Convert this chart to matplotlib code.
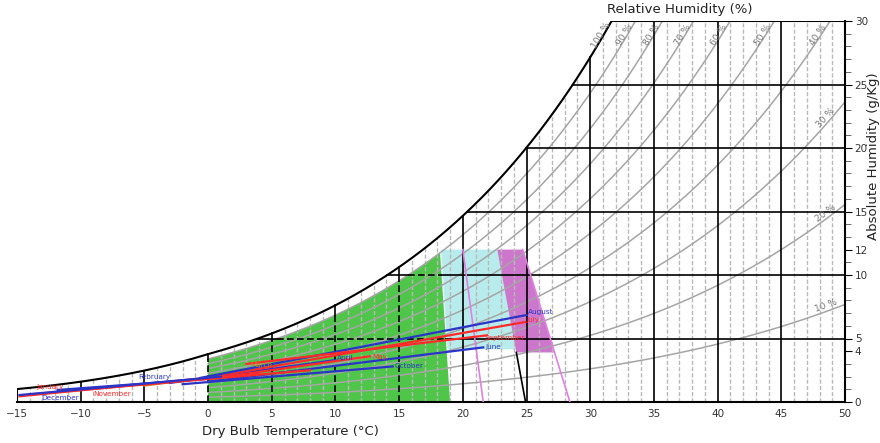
import numpy as np
import matplotlib
matplotlib.use("Agg")
import matplotlib.pyplot as plt
from matplotlib.patches import Polygon

# monthly segments: (T start, w start) -> (T end, w end), w in g/kg
months = ["January", "February", "March", "April", "May", "June",
          "July", "August", "September", "October", "November", "December"]
t_start = [-14.8, -11.8, -5.0, -3.0, 0.0, 0.0, -0.6, -0.6, 3.0, -2.0, -14.0, -14.8]
w_start = [0.45, 0.95, 1.3, 1.5, 1.8, 1.6, 1.8, 1.9, 3.0, 1.4, 0.6, 0.55]
t_end = [4.0, -0.3, 6.3, 10.0, 12.7, 21.6, 24.9, 25.0, 21.9, 14.5, 8.0, 1.0]
w_end = [2.3, 1.8, 2.7, 3.3, 3.6, 4.3, 6.3, 6.85, 5.25, 2.8, 2.5, 2.0]
month_colors = ["#ff2a2a", "#2a35c8", "#d07a1a", "#2a35c8", "#ff2a2a", "#2a35c8",
                "#ff2a2a", "#2a35c8", "#ff2a2a", "#2a35c8", "#ff2a2a", "#2a35c8"]
# where each month name is written
label_t = [-12.4, -4.2, 4.2, 10.8, 13.5, 22.4, 25.5, 26.1, 23.3, 15.8, -7.5, -11.6]
label_w = [1.18, 1.97, 2.9, 3.46, 3.54, 4.33, 6.46, 7.09, 5.04, 2.83, 0.63, 0.3]

rh_levels = [10, 20, 30, 40, 50, 60, 70, 80, 90]
rh_top = [100, 90, 80, 70, 60, 50, 40]
rh_side = [30, 20, 10]
y_ticks = [0, 4, 5, 10, 12, 15, 20, 25, 30]
x_ticks = list(range(-15, 51, 5))

# comfort zones (T, w)
green_right = [(18.2, 11.9), (19.0, 0.0)]
cyan_zone = [(18.3, 12.0), (22.7, 12.0), (24.3, 4.15), (18.8, 4.15)]
magenta_zone = [(22.7, 12.0), (24.7, 12.0), (27.2, 3.9), (24.2, 3.9)]

P = 101.325
PX_T = 828 / 65.0   # pixels per degree
PX_W = 381 / 30.0   # pixels per g/kg


def p_sat(t):
    t = np.asarray(t, dtype=float)
    water = 0.61094 * np.exp(17.625 * t / (t + 243.04))
    ice = 0.61115 * np.exp(22.452 * t / (272.55 + t))
    return np.where(t < 0, ice, water)


def w_of(t, rh=100.0):
    p = p_sat(t) * rh / 100.0
    return 622.0 * p / (P - p)


def t_of(w, rh=100.0):
    ts = np.linspace(-20, 60, 8001)
    return float(np.interp(w, w_of(ts, rh), ts))


def slope_deg(t, rh):
    dw = (w_of(t + 0.05, rh) - w_of(t - 0.05, rh)) / 0.1
    return float(np.degrees(np.arctan(dw * PX_W / PX_T)))


fig = plt.figure(figsize=(8.8, 4.43), dpi=100)
ax = fig.add_axes([17 / 880, 1 - 402 / 443, 828 / 880, 381 / 443])
ax.set_xlim(-15, 50)
ax.set_ylim(0, 30)

T = np.linspace(-15, 50, 1301)
wsat = w_of(T)
t30 = t_of(30.0)

# colored zones
tg = np.linspace(0, 18.2, 200)
green = list(zip(tg, w_of(tg, 90))) + green_right + [(0, 0)]
ax.add_patch(Polygon(cyan_zone, closed=True, fc="#b8ecec", ec="none", zorder=1))
ax.add_patch(Polygon(green, closed=True, fc="#4fc64a", ec="none", zorder=1.5))
ax.add_patch(Polygon(magenta_zone, closed=True, fc="#cc77cc", ec="none", zorder=1.2))

# light dashed isotherms every degree
for t in range(-14, 50):
    if t % 5 == 0:
        continue
    ax.plot([t, t], [0, min(w_of(t), 30)], color="#b8b8b8", lw=1.0,
            ls=(0, (3, 1.5)), zorder=2)

# relative humidity curves (above freezing)
Tp = T[T >= 0]
for rh in rh_levels:
    w = w_of(Tp, rh)
    m = w <= 30
    ax.plot(Tp[m], w[m], color="#a5a5a5", lw=1.1, zorder=2.2)


def green_edge_t(w):
    (t1, w1), (t2, w2) = green_right
    return t1 + (w - w1) * (t2 - t1) / (w2 - w1)


# main isotherms (dashed inside green zone)
for t in range(-15, 51, 5):
    top = min(w_of(t), 30)
    if 0 <= t <= 15:
        g = w_of(t, 90)
        ax.plot([t, t], [0, g], color="black", lw=1.2, ls=(0, (4, 2)), zorder=3)
        ax.plot([t, t], [g, top], color="black", lw=1.2, zorder=3)
    else:
        ax.plot([t, t], [0, top], color="black", lw=1.2, zorder=3)

# main humidity lines
for w in [5, 10, 15, 20, 25]:
    ts = t_of(w)
    tg0 = t_of(w, 90)
    tg1 = green_edge_t(w)
    if tg0 < tg1:
        ax.plot([ts, tg0], [w, w], color="black", lw=1.2, zorder=3)
        ax.plot([tg0, tg1], [w, w], color="black", lw=1.2, ls=(0, (4, 2)), zorder=3)
        ax.plot([tg1, 50], [w, w], color="black", lw=1.2, zorder=3)
    else:
        ax.plot([ts, 50], [w, w], color="black", lw=1.2, zorder=3)

# zone edge extensions down to the axis
(a1, b1), (a2, b2) = magenta_zone[0], magenta_zone[3]
ax.plot([a2, a2 + (a2 - a1) * b2 / (b1 - b2)], [b2, 0], color="black", lw=1.2, zorder=3)
(a1, b1), (a2, b2) = magenta_zone[1], magenta_zone[2]
ax.plot([a1, a2 + (a2 - a1) * b2 / (b1 - b2)], [b1, 0], color="#e080e0", lw=1.2, zorder=3)
ax.plot([20.0, 21.6], [12.0, 0], color="#e080e0", lw=1.2, zorder=3)

# chart outline
m = T <= t30
ax.plot(T[m], wsat[m], color="black", lw=1.5, zorder=4)
ax.plot([t30, 50], [30, 30], color="black", lw=1.5, zorder=4)
ax.plot([-15, -15], [0, w_of(-15)], color="black", lw=1.5, zorder=4)

# monthly lines
for i, name in enumerate(months):
    ax.plot([t_start[i], t_end[i]], [w_start[i], w_end[i]], color=month_colors[i],
            lw=1.6, zorder=5)
    ax.text(label_t[i], label_w[i], name, color=month_colors[i], fontsize=5.2,
            ha="center", va="center", zorder=6)

# RH labels
for rh in rh_top:
    w = 28.9
    t = t_of(w, rh) - 0.2
    ax.text(t, w, "%d %%" % rh, rotation=slope_deg(t, rh), color="#777777",
            fontsize=6.5, ha="center", va="center", zorder=6)
for rh in rh_side:
    t = 48.5
    w = float(w_of(t, rh)) + 0.5
    ax.text(t, w, "%d %%" % rh, rotation=slope_deg(t, rh), color="#777777",
            fontsize=6.5, ha="center", va="center", zorder=6)

# axes styling
for s in ["left", "top"]:
    ax.spines[s].set_visible(False)
ax.spines["right"].set_linewidth(1.5)
ax.spines["bottom"].set_linewidth(1.5)
ax.yaxis.tick_right()
ax.set_yticks(y_ticks)
ax.set_yticks(range(0, 31), minor=True)
ax.set_xticks(x_ticks)
ax.tick_params(axis="y", which="major", length=5, labelsize=7.5, pad=2)
ax.tick_params(axis="y", which="minor", length=4, color="#555555")
ax.tick_params(axis="x", length=0, labelsize=7.5, pad=5)
for lab in ax.get_xticklabels() + ax.get_yticklabels():
    lab.set_color("#333333")

fig.text(290 / 880, 1 - 432 / 443, "Dry Bulb Temperature (°C)", ha="center",
         va="center", fontsize=9.5, color="#222222")
fig.text(680 / 880, 1 - 10 / 443, "Relative Humidity (%)", ha="center",
         va="center", fontsize=9.5, color="#222222")
fig.text(873 / 880, 1 - 156 / 443, "Absolute Humidity (g/Kg)", ha="center",
         va="center", rotation=90, fontsize=9.5, color="#222222")

fig.savefig("out.png", dpi=100)
